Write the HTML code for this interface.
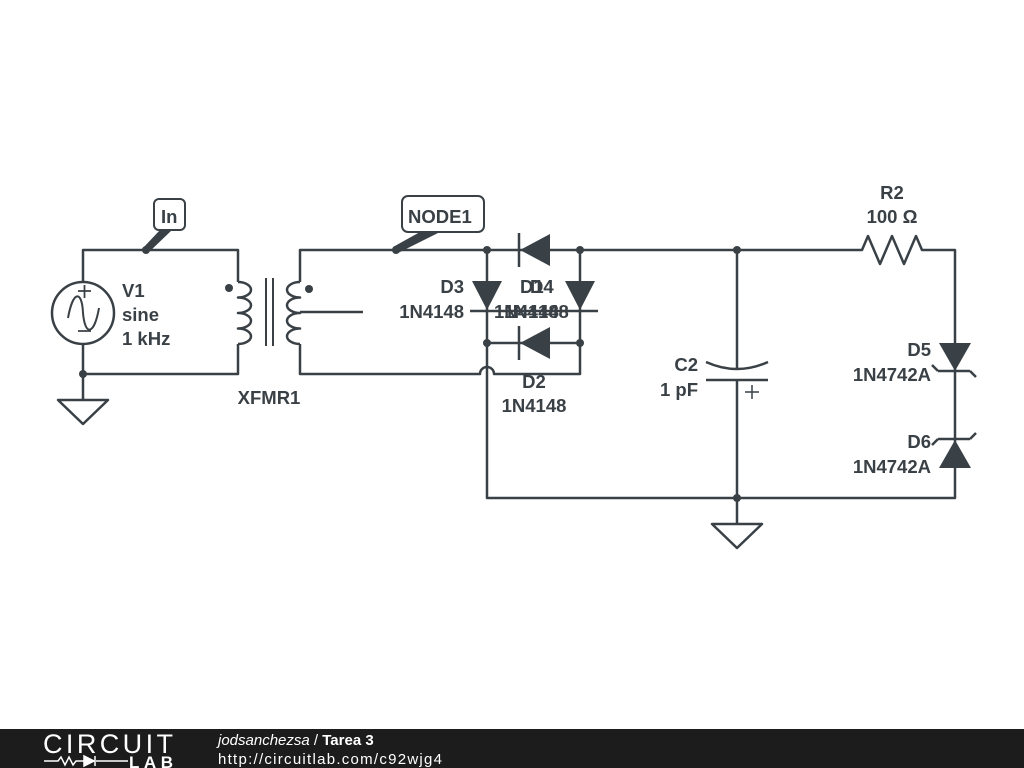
<!DOCTYPE html>
<html><head><meta charset="utf-8"><style>
body{margin:0;background:#fff;width:1024px;height:768px;overflow:hidden}
svg{display:block}
text{font-family:"Liberation Sans",sans-serif;font-weight:bold;font-size:18.5px;fill:#3a4146}
</style></head><body>
<svg width="1024" height="768" viewBox="0 0 1024 768">
<g stroke="#3a4146" stroke-width="2.5" fill="none" stroke-linejoin="round">
<path d="M83,282 V250 H238 V282 M238,344 V374 H83 V344 M83,374 V400"/>
<circle cx="83" cy="313" r="31"/>
<path d="M68,318 C73,290 82,290 83,313 C85,336 94,336 99,308" stroke-width="2"/>
<path d="M78,291 H91 M84.5,285 V298 M78,331 H91" stroke-width="1.8"/>
<path d="M58,400 H108 L83,424 Z"/>
<path d="M238,282 a13,7.75 0 0 1 0,15.5 a13,7.75 0 0 1 0,15.5 a13,7.75 0 0 1 0,15.5 a13,7.75 0 0 1 0,15.5"/>
<path d="M266,278 V346 M273,278 V346" stroke-width="2"/>
<path d="M300,282 a13,7.75 0 0 0 0,15.5 a13,7.75 0 0 0 0,15.5 a13,7.75 0 0 0 0,15.5 a13,7.75 0 0 0 0,15.5"/>
<path d="M300,312 H363"/>
<path d="M300,282 V250 H857 M300,344 V374 H480 A7,7 0 0 1 494,374 H580 V250"/>
<path d="M487,250 V498 H955 V250 H927"/>
<path d="M857,250 l5,0 l6,-14 l12,28 l12,-28 l12,28 l12,-28 l6,14 H927"/>
<path d="M487,343 H580"/>
<path d="M470,311 H598"/>
<path d="M519,233 V267 M519,326 V360"/>
<path d="M737,250 V369 M737,380 V498 M706,380 H768"/>
<path d="M706,362 Q737,376 768,362"/>
<path d="M745,392 H759 M752,385 V399" stroke-width="1.5"/>
<path d="M737,498 V524 M712,524 H762 L737,548 Z"/>
<path d="M938,371 H970 M938,371 l-6,-6 M970,371 l6,6"/>
<path d="M938,439 H970 M938,439 l-6,6 M970,439 l6,-6"/>
<rect x="154" y="199" width="31" height="31" rx="5" fill="#fff" stroke-width="2"/>
<rect x="402" y="196" width="82" height="36" rx="6" fill="#fff" stroke-width="2"/>
</g>
<g fill="#3a4146">
<path d="M143,248 L160,230 L172,230 L148,253 Z"/>
<path d="M393,247 L420,232 L440,232 L398,253 Z"/>
<circle cx="146" cy="250" r="4"/><circle cx="396" cy="250" r="4"/>
<circle cx="83" cy="374" r="4"/><circle cx="229" cy="288" r="4"/><circle cx="309" cy="289" r="4"/>
<circle cx="487" cy="250" r="4"/><circle cx="580" cy="250" r="4"/>
<circle cx="487" cy="343" r="4"/><circle cx="580" cy="343" r="4"/>
<circle cx="737" cy="250" r="4"/><circle cx="737" cy="498" r="4"/>
<path d="M472,281 H502 L487,310 Z"/>
<path d="M565,281 H595 L580,310 Z"/>
<path d="M550,234 V266 L520,250 Z"/>
<path d="M550,327 V359 L520,343 Z"/>
<path d="M939,343 H971 L955,371 Z"/>
<path d="M939,468 H971 L955,440 Z"/>
</g>
<text x="161" y="223">In</text>
<text x="408" y="223">NODE1</text>
<text x="122" y="297">V1</text><text x="122" y="321">sine</text><text x="122" y="345">1 kHz</text>
<text x="269" y="404" text-anchor="middle">XFMR1</text>
<text x="464" y="293" text-anchor="end">D3</text><text x="464" y="318" text-anchor="end">1N4148</text>
<text x="520" y="293">D1</text><text x="530" y="293">D4</text>
<text x="494" y="318">1N4148</text><text x="504" y="318">1N4148</text>
<text x="534" y="388" text-anchor="middle">D2</text><text x="534" y="412" text-anchor="middle">1N4148</text>
<text x="698" y="371" text-anchor="end">C2</text><text x="698" y="396" text-anchor="end">1 pF</text>
<text x="892" y="199" text-anchor="middle">R2</text><text x="892" y="223" text-anchor="middle">100 Ω</text>
<text x="931" y="356" text-anchor="end">D5</text><text x="931" y="381" text-anchor="end">1N4742A</text>
<text x="931" y="448" text-anchor="end">D6</text><text x="931" y="473" text-anchor="end">1N4742A</text>
<rect x="0" y="729" width="1024" height="39" fill="#1c1c1c"/>
<text x="43" y="753" style="font-weight:normal;font-size:27px;fill:#fff;letter-spacing:0px" textLength="130">CIRCUIT</text>
<path d="M44,761 H58 l3,-4 l4,8 l4,-8 l4,8 l3,-4 H84 M96,761 H128" stroke="#fff" stroke-width="1.5" fill="none"/>
<path d="M84,756 V766 L94,761 Z M95,756 V766" fill="#fff" stroke="#fff" stroke-width="1.5"/>
<text x="129" y="768" style="font-size:17px;fill:#fff" textLength="44">LAB</text>
<text x="218" y="745" style="font-weight:normal;font-style:italic;font-size:15px;fill:#fff">jodsanchezsa <tspan font-style="normal">/</tspan> <tspan font-style="normal" font-weight="bold">Tarea 3</tspan></text>
<text x="218" y="764" style="font-weight:normal;font-size:15px;fill:#fff" textLength="224">http://circuitlab.com/c92wjg4</text>
</svg>
</body></html>
